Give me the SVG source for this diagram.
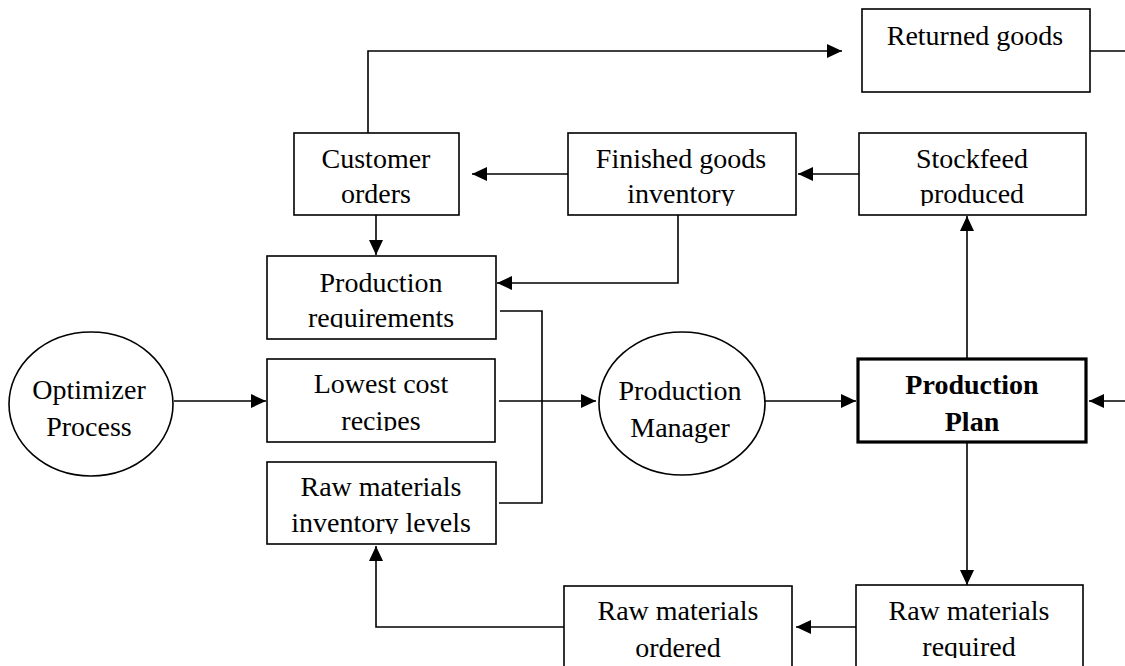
<svg xmlns="http://www.w3.org/2000/svg" width="1125" height="666" viewBox="0 0 1125 666">
  <style>
    .box { fill: #fff; stroke: #000; stroke-width: 1.6; }
    .main { fill: #fff; stroke: #000; stroke-width: 3.2; }
    .oval { fill: #fff; stroke: #000; stroke-width: 1.6; }
    .t { font-family: "Liberation Serif", "Times New Roman", serif; font-size: 28px; fill: #000; text-anchor: middle; }
    .b { font-weight: bold; }
    .c { fill: none; stroke: #000; stroke-width: 1.6; }
  </style>
  <defs>
    <marker id="arr" markerUnits="userSpaceOnUse" markerWidth="16" markerHeight="14" refX="15" refY="7" orient="auto">
      <path d="M0,0 L15,7 L0,14 z" fill="#000"/>
    </marker>
    <!-- text areas of the boxes cut off their lowest strip -->
    <clipPath id="cl-fin"><rect x="568" y="133" width="228" height="73"/></clipPath>
    <clipPath id="cl-stock"><rect x="859" y="133" width="227" height="73"/></clipPath>
    <clipPath id="cl-req"><rect x="267" y="256" width="229" height="72"/></clipPath>
    <clipPath id="cl-low"><rect x="267" y="359" width="228" height="72"/></clipPath>
    <clipPath id="cl-inv"><rect x="267" y="462" width="229" height="72"/></clipPath>
    <clipPath id="cl-ord"><rect x="564" y="586" width="228" height="72"/></clipPath>
    <clipPath id="cl-rreq"><rect x="856" y="585" width="227" height="73"/></clipPath>
  </defs>

  <!-- connectors -->
  <g id="connectors">
    <path class="c" d="M368,133 V51 H842" marker-end="url(#arr)"/>
    <path class="c" d="M1090,51 H1125"/>
    <path class="c" d="M568,174 H472" marker-end="url(#arr)"/>
    <path class="c" d="M859,174 H798" marker-end="url(#arr)"/>
    <path class="c" d="M376,215 V255" marker-end="url(#arr)"/>
    <path class="c" d="M678,215 V283 H497" marker-end="url(#arr)"/>
    <path class="c" d="M500,311 H542 V503 H499"/>
    <path class="c" d="M174,401 H266" marker-end="url(#arr)"/>
    <path class="c" d="M499,401 H596" marker-end="url(#arr)"/>
    <path class="c" d="M765,401 H856" marker-end="url(#arr)"/>
    <path class="c" d="M1125,401 H1089" marker-end="url(#arr)"/>
    <path class="c" d="M967,359 V216" marker-end="url(#arr)"/>
    <path class="c" d="M967,442 V585" marker-end="url(#arr)"/>
    <path class="c" d="M856,627 H796" marker-end="url(#arr)"/>
    <path class="c" d="M564,627 H376 V546" marker-end="url(#arr)"/>
  </g>

  <g id="returned-goods">
    <rect class="box" x="862" y="9" width="228" height="83"/>
    <text class="t" x="975" y="45">Returned goods</text>
  </g>

  <g id="customer-orders">
    <rect class="box" x="294" y="133" width="165" height="82"/>
    <text class="t" x="376" y="168">Customer</text>
    <text class="t" x="376" y="203">orders</text>
  </g>

  <g id="finished-goods">
    <rect class="box" x="568" y="133" width="228" height="82"/>
    <g clip-path="url(#cl-fin)">
      <text class="t" x="681" y="168">Finished goods</text>
      <text class="t" x="681" y="203">inventory</text>
    </g>
  </g>

  <g id="stockfeed">
    <rect class="box" x="859" y="133" width="227" height="82"/>
    <g clip-path="url(#cl-stock)">
      <text class="t" x="972" y="168">Stockfeed</text>
      <text class="t" x="972" y="203">produced</text>
    </g>
  </g>

  <g id="production-requirements">
    <rect class="box" x="267" y="256" width="229" height="83"/>
    <g clip-path="url(#cl-req)">
      <text class="t" x="381" y="292">Production</text>
      <text class="t" x="381" y="327">requirements</text>
    </g>
  </g>

  <g id="optimizer">
    <ellipse class="oval" cx="91" cy="404" rx="82" ry="72"/>
    <text class="t" x="89" y="399">Optimizer</text>
    <text class="t" x="89" y="436">Process</text>
  </g>

  <g id="lowest-cost">
    <rect class="box" x="267" y="359" width="228" height="83"/>
    <g clip-path="url(#cl-low)">
      <text class="t" x="381" y="393">Lowest cost</text>
      <text class="t" x="381" y="430">recipes</text>
    </g>
  </g>

  <g id="raw-inventory">
    <rect class="box" x="267" y="462" width="229" height="82"/>
    <g clip-path="url(#cl-inv)">
      <text class="t" x="381" y="496">Raw materials</text>
      <text class="t" x="381" y="532">inventory levels</text>
    </g>
  </g>

  <g id="production-manager">
    <ellipse class="oval" cx="682" cy="403.5" rx="83" ry="71.5"/>
    <text class="t" x="680" y="400">Production</text>
    <text class="t" x="680" y="437">Manager</text>
  </g>

  <g id="production-plan">
    <rect class="main" x="858" y="359" width="228" height="83"/>
    <text class="t b" x="972" y="394">Production</text>
    <text class="t b" x="972" y="431">Plan</text>
  </g>

  <g id="raw-ordered">
    <rect class="box" x="564" y="586" width="228" height="100"/>
    <g clip-path="url(#cl-ord)">
      <text class="t" x="678" y="620">Raw materials</text>
      <text class="t" x="678" y="657">ordered</text>
    </g>
  </g>

  <g id="raw-required">
    <rect class="box" x="856" y="585" width="227" height="100"/>
    <g clip-path="url(#cl-rreq)">
      <text class="t" x="969" y="620">Raw materials</text>
      <text class="t" x="969" y="656">required</text>
    </g>
  </g>
</svg>
